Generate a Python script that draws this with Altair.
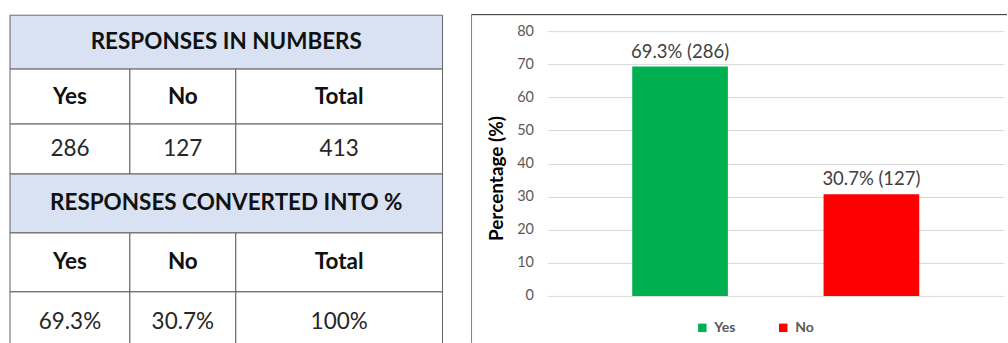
import altair as alt
import pandas as pd
import numpy as np

# ---------------- data ----------------
categories = ["Yes", "No"]
counts = [286, 127]
total_count = 413
percentages = [69.3, 30.7]
pct_texts = ["69.3%", "30.7%", "100%"]
table_headers = ["RESPONSES IN NUMBERS", "RESPONSES CONVERTED INTO %"]
col_labels = ["Yes", "No", "Total"]
y_ticks = [0, 10, 20, 30, 40, 50, 60, 70, 80]
bar_colors = ["#00B050", "#FF0000"]

# ---------------- layout constants (table grid) ----------------
COL_W = [120, 106, 207]
ROW_H = [54, 55, 50, 59, 59, 60]
HEADER_FILL = "#D9E2F3"

col_edges = np.concatenate([[0], np.cumsum(COL_W)])
row_edges = np.concatenate([[0], np.cumsum(ROW_H)])
TABLE_W = float(col_edges[-1])

rows = []
def add_row(r, texts, bold, fill, span_all=False):
    if span_all:
        spans = [(0, 3)]
    else:
        spans = [(i, i + 1) for i in range(3)]
    for (c0, c1), t in zip(spans, texts):
        x0, x1 = col_edges[c0], col_edges[c1]
        y0, y1 = row_edges[r], row_edges[r + 1]
        rows.append(dict(x0=x0, x1=x1, y0=y0, y1=y1, xc=(x0 + x1) / 2,
                         yc=(y0 + y1) / 2, text=str(t), bold=bold, fill=fill))

add_row(0, [table_headers[0]], True, HEADER_FILL, span_all=True)
add_row(1, col_labels, True, "#FFFFFF")
add_row(2, counts + [total_count], False, "#FFFFFF")
add_row(3, [table_headers[1]], True, HEADER_FILL, span_all=True)
add_row(4, col_labels, True, "#FFFFFF")
add_row(5, pct_texts, False, "#FFFFFF")
table_df = pd.DataFrame(rows)

TBL_H = 330
xs = alt.Scale(domain=[-1, TABLE_W + 1], nice=False, zero=False)
ys = alt.Scale(domain=[-1, TBL_H - 1], nice=False, zero=False, reverse=True)

cells = alt.Chart(table_df).mark_rect(stroke="#606060", strokeWidth=1, clip=True).encode(
    x=alt.X("x0:Q", scale=xs, axis=None),
    x2="x1:Q",
    y=alt.Y("y0:Q", scale=ys, axis=None),
    y2="y1:Q",
    fill=alt.Fill("fill:N", scale=None),
)
txt_bold = alt.Chart(table_df).transform_filter("datum.bold").mark_text(
    font="Lato", fontSize=22.5, fontWeight="bold", color="#111111",
    align="center", baseline="middle").encode(
    x=alt.X("xc:Q", scale=xs, axis=None), y=alt.Y("yc:Q", scale=ys, axis=None), text="text:N")
txt_reg = alt.Chart(table_df).transform_filter("!datum.bold").mark_text(
    font="Lato", fontSize=22.5, color="#262626",
    align="center", baseline="middle").encode(
    x=alt.X("xc:Q", scale=xs, axis=None), y=alt.Y("yc:Q", scale=ys, axis=None), text="text:N")

table = alt.layer(cells, txt_bold, txt_reg).properties(width=TABLE_W + 2, height=TBL_H)

# ---------------- bar chart ----------------
bar_df = pd.DataFrame({
    "category": categories,
    "pct": percentages,
    "count": counts,
})
bar_df["label"] = [f"{p}% ({c})" for p, c in zip(percentages, counts)]

PW, PH = 457, 282
ymax = 80 * PH / 265.0

x_enc = alt.X("category:N", sort=categories,
              scale=alt.Scale(domain=categories, paddingInner=0.5, paddingOuter=0.443),
              axis=None)
y_enc = alt.Y("pct:Q", scale=alt.Scale(domain=[0, ymax], nice=False),
              axis=alt.Axis(values=y_ticks, tickCount=len(y_ticks), labelOverlap=False,
                            title="Percentage (%)", grid=True,
                            gridColor="#D9D9D9", domain=False, ticks=False,
                            labelPadding=14, labelFont="Lato", labelFontSize=14.5,
                            labelColor="#595959", titleFont="Lato", titleFontSize=19,
                            titleFontWeight="bold", titleColor="#000000",
                            titleX=-51, titleY=164, titleBaseline="middle"))

bars = alt.Chart(bar_df).mark_bar().encode(
    x=x_enc, y=y_enc,
    color=alt.Color("category:N", sort=categories,
                    scale=alt.Scale(domain=categories, range=bar_colors),
                    legend=alt.Legend(title=None, orient="none", legendX=687, legendY=307,
                                      direction="horizontal", symbolType="square",
                                      symbolSize=72, symbolStrokeWidth=0,
                                      labelFont="Lato", labelFontSize=14,
                                      labelFontWeight="bold", labelColor="#595959",
                                      columnPadding=40, labelOffset=5, padding=0)),
)
labels = alt.Chart(bar_df).mark_text(font="Lato", fontSize=18.5, color="#404040",
                                     baseline="alphabetic", dy=-9).encode(
    x=x_enc, y=alt.Y("pct:Q"), text="label:N")

frame_src = pd.DataFrame({"k": [0]})
frame_top = alt.Chart(frame_src).mark_rule(color="#262626", strokeWidth=1).encode(
    x=alt.value(-76), x2=alt.value(PW + 3), y=alt.value(0.5))
frame_left = alt.Chart(frame_src).mark_rule(color="#7F7F7F", strokeWidth=1).encode(
    x=alt.value(-76), y=alt.value(0), y2=alt.value(329))

barchart = alt.layer(frame_top, frame_left, bars, labels).properties(width=PW, height=PH)

chart = alt.hconcat(table, barchart, spacing=104, bounds="flush").properties(
    padding={"left": 9, "top": 13, "right": 0, "bottom": 0},
    background="#FFFFFF",
).configure_view(stroke=None)

chart.save("out.html", embed_options={"renderer": "svg", "actions": False})
